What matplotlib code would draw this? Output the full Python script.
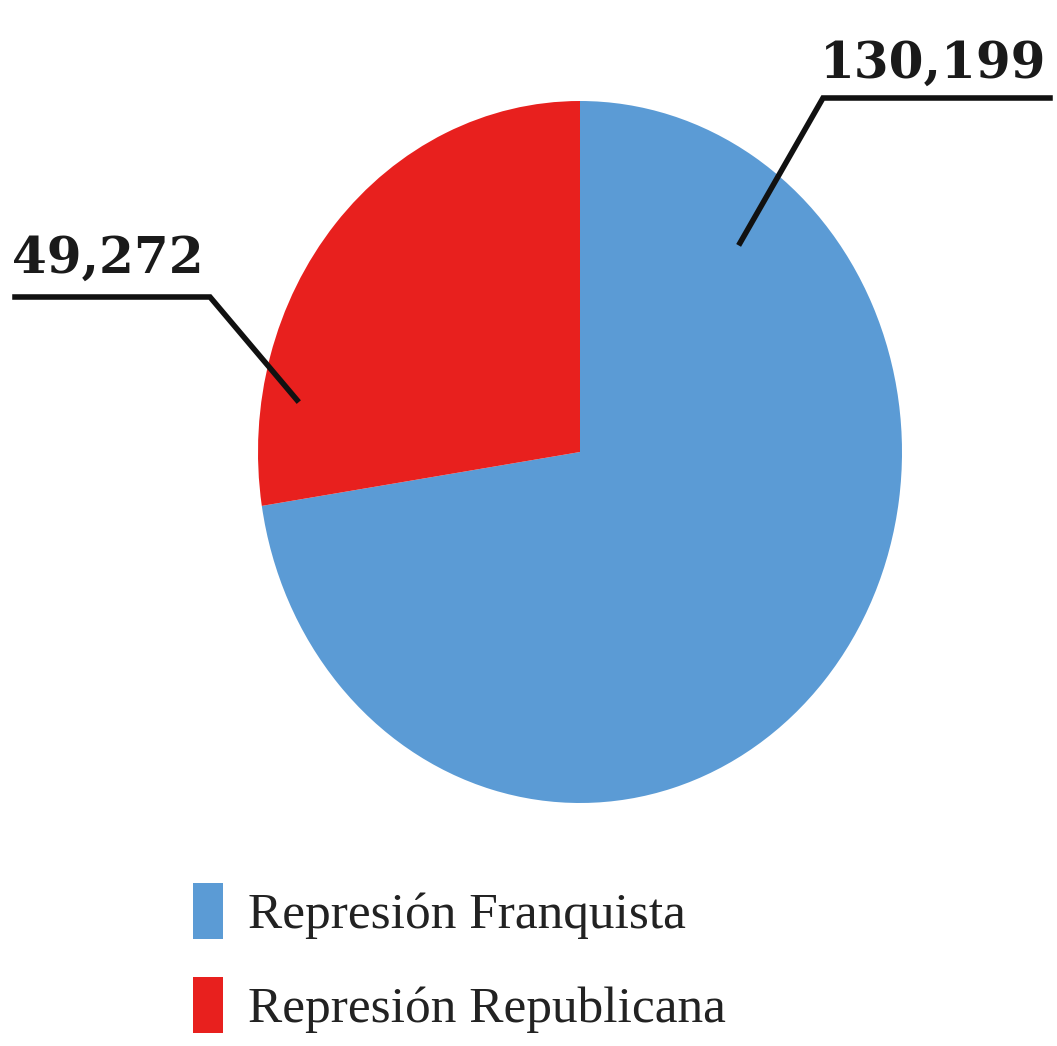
import matplotlib
matplotlib.use("Agg")
import matplotlib.pyplot as plt

categories = ["Represión Franquista", "Represión Republicana"]
values = [130199, 49272]
value_labels = ["130,199", "49,272"]
colors = ["#5B9BD5", "#E8201E"]

W, H = 1057, 1046
fig = plt.figure(figsize=(W / 100, H / 100), dpi=100)
fig.patch.set_facecolor("white")

# elliptical pie (taller than wide)
ax = fig.add_axes([258 / W, 1 - 803 / H, 644 / W, 702 / H])
wedges, _ = ax.pie(values, colors=colors, startangle=90, counterclock=False,
                   radius=1.0, center=(0, 0))
ax.set_xlim(-1, 1)
ax.set_ylim(-1, 1)
ax.set_aspect("auto")
ax.axis("off")


def fx(x):
    return x / W


def fy(y):
    return 1 - y / H


lw = 4
# right label (Franquista)
fig.add_artist(plt.Line2D([fx(740), fx(823), fx(1050)], [fy(243), fy(98), fy(98)],
                          color="#111111", lw=lw, solid_joinstyle="miter"))
fig.text(fx(1046), fy(78), value_labels[0], ha="right", va="baseline",
         fontsize=36, fontweight="bold", family="DejaVu Serif", color="#1a1a1a")
# left label (Republicana)
fig.add_artist(plt.Line2D([fx(15), fx(210), fx(297)], [fy(297), fy(297), fy(400)],
                          color="#111111", lw=lw, solid_joinstyle="miter"))
fig.text(fx(12), fy(273), value_labels[1], ha="left", va="baseline",
         fontsize=36, fontweight="bold", family="DejaVu Serif", color="#1a1a1a")

leg = fig.legend(wedges, categories, loc="upper left",
                 bbox_to_anchor=(fx(193), fy(883)), frameon=False,
                 prop={"family": "Liberation Serif", "size": 37},
                 handlelength=0.58, handleheight=1.29, handletextpad=0.5,
                 labelspacing=0.74, borderpad=0, borderaxespad=0)
for t in leg.get_texts():
    t.set_color("#222222")

fig.savefig("out.png", dpi=100, facecolor="white")
